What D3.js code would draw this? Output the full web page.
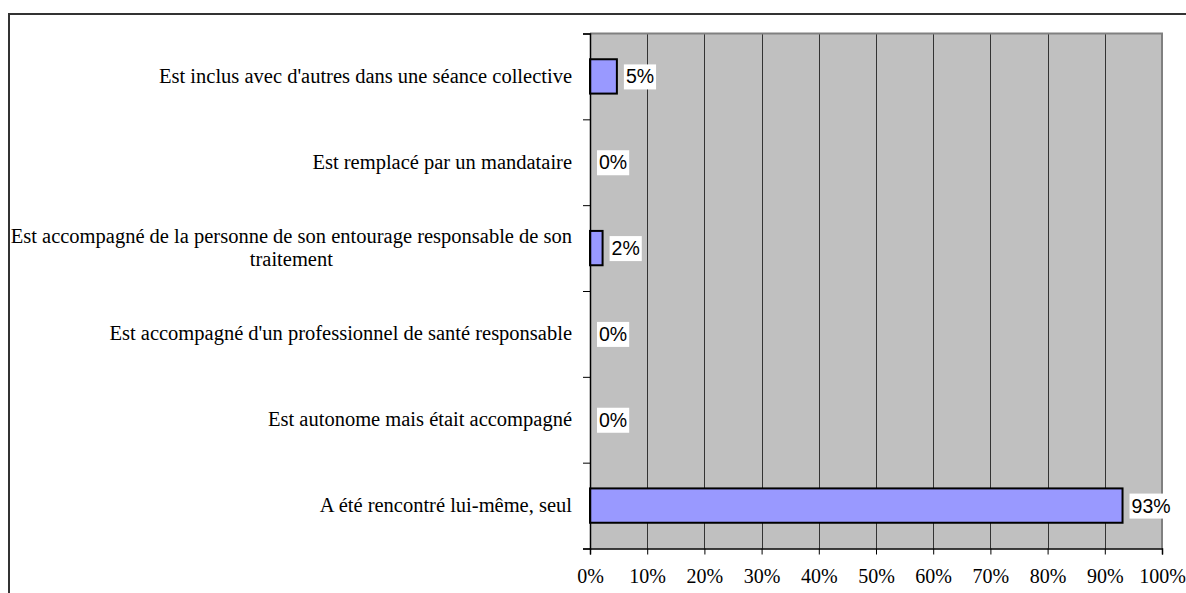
<!DOCTYPE html>
<html>
<head>
<meta charset="utf-8">
<script src="https://cdn.jsdelivr.net/npm/d3@7"></script>
<style>
  html, body { margin: 0; padding: 0; background: #fff; }
  svg { display: block; }
</style>
</head>
<body>
<svg id="chart" width="1186" height="593"></svg>
<script>
const categories = [
  "Est inclus avec d'autres dans une séance collective",
  "Est remplacé par un mandataire",
  "Est accompagné de la personne de son entourage responsable de son\ntraitement",
  "Est accompagné d'un professionnel de santé responsable",
  "Est autonome mais était accompagné",
  "A été rencontré lui-même, seul"
];
const values = [0.047, 0, 0.022, 0, 0, 0.931];
const xTickValues = [0, 0.1, 0.2, 0.3, 0.4, 0.5, 0.6, 0.7, 0.8, 0.9, 1.0];

const svg = d3.select("#chart");
const plot = { left: 590, right: 1162, top: 33.5, bottom: 548.5 };
const serif = "'Liberation Serif', 'Times New Roman', serif";
const sans = "'Liberation Sans', Arial, sans-serif";

// outer frame
svg.append("rect")
  .attr("x", 9).attr("y", 14).attr("width", 1300).attr("height", 700)
  .attr("fill", "none").attr("stroke", "#333").attr("stroke-width", 2);

const x = d3.scaleLinear().domain([0, 1]).range([plot.left, plot.right]);
const y = d3.scaleBand().domain(categories).range([plot.top, plot.bottom])
  .paddingInner(0.6).paddingOuter(0.3);
const yEdges = d3.scaleLinear().domain([0, categories.length]).range([plot.top, plot.bottom]);

// plot background
svg.append("rect")
  .attr("x", plot.left).attr("y", plot.top)
  .attr("width", plot.right - plot.left).attr("height", plot.bottom - plot.top)
  .attr("fill", "#c0c0c0");

// gridlines
svg.append("g")
  .selectAll("line")
  .data(xTickValues.slice(1, -1))
  .join("line")
  .attr("x1", d => Math.round(x(d)) + 0.5).attr("x2", d => Math.round(x(d)) + 0.5)
  .attr("y1", plot.top).attr("y2", plot.bottom)
  .attr("stroke", "#333").attr("stroke-width", 1);

// top and right border (gray)
svg.append("path")
  .attr("d", `M${plot.left},${plot.top}H${plot.right}V${plot.bottom}`)
  .attr("fill", "none").attr("stroke", "#808080").attr("stroke-width", 2);

// bars
svg.append("g")
  .selectAll("rect")
  .data(categories.map((c, i) => ({ c, v: values[i] })).filter(d => d.v > 0))
  .join("rect")
  .attr("x", x(0))
  .attr("y", d => y(d.c))
  .attr("width", d => x(d.v) - x(0))
  .attr("height", y.bandwidth())
  .attr("fill", "#9999ff")
  .attr("stroke", "#000").attr("stroke-width", 2);

// x axis
const xAxis = svg.append("g")
  .attr("transform", `translate(0,${plot.bottom})`)
  .call(d3.axisBottom(x).tickValues(xTickValues).tickFormat(d3.format(".0%")).tickSize(6).tickPadding(14));
xAxis.select(".domain").attr("stroke", "#000").attr("stroke-width", 1.5);
xAxis.selectAll(".tick line").attr("stroke", "#000");
xAxis.selectAll("text").attr("font-family", serif).attr("font-size", 20).attr("fill", "#000");

// y axis (ticks at category boundaries)
const yAxis = svg.append("g")
  .attr("transform", `translate(${plot.left},0)`)
  .call(d3.axisLeft(yEdges).ticks(categories.length).tickSize(7).tickFormat(""));
yAxis.select(".domain").attr("stroke", "#000").attr("stroke-width", 1.5);
yAxis.selectAll(".tick line").attr("stroke", "#000");

// category labels
const labelRight = 572;
const lineH = 23.5;
categories.forEach(c => {
  const lines = c.split("\n");
  const cy = y(c) + y.bandwidth() / 2;
  const t = svg.append("text")
    .attr("font-family", serif).attr("font-size", 20.5).attr("fill", "#000");
  lines.forEach((ln, i) => {
    t.append("tspan")
      .attr("y", cy + 6.5 + (i - (lines.length - 1) / 2) * lineH)
      .text(ln);
  });
  if (lines.length === 1) {
    t.attr("text-anchor", "end").selectAll("tspan").attr("x", labelRight);
  } else {
    const w = Math.max(...t.selectAll("tspan").nodes().map(n => n.getComputedTextLength()));
    t.attr("text-anchor", "middle").selectAll("tspan").attr("x", labelRight - w / 2);
  }
});

// data labels
const fmt = d3.format(".0%");
categories.forEach((c, i) => {
  const cy = y(c) + y.bandwidth() / 2;
  const g = svg.append("g");
  const bx = x(values[i]) + 7;
  const rect = g.append("rect").attr("fill", "#fff");
  const t = g.append("text")
    .attr("x", bx + 2).attr("y", cy + 7)
    .attr("font-family", sans).attr("font-size", 19.5).attr("fill", "#000")
    .text(fmt(values[i]));
  const bb = t.node().getBBox();
  rect.attr("x", bx).attr("y", cy - 12).attr("width", bb.width + 4).attr("height", 25);
});
</script>
</body>
</html>
